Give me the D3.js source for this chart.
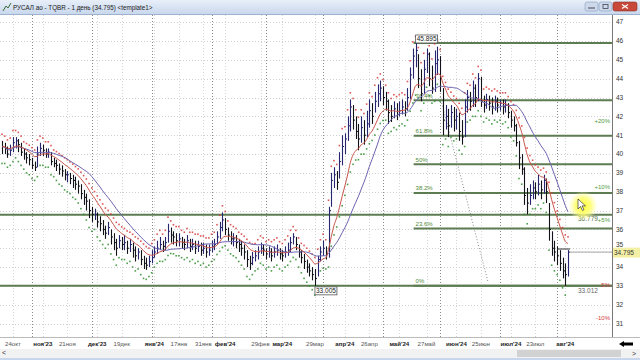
<!DOCTYPE html>
<html><head><meta charset="utf-8">
<script src="https://cdn.jsdelivr.net/npm/d3@7/dist/d3.min.js"></script>
<style>body{margin:0;background:#fff;overflow:hidden}svg{display:block;font-family:"Liberation Sans",Arial,sans-serif}</style>
</head><body><svg id="c" width="640" height="360"></svg>
<script>
// ---- data ----
const closes = [
40.4,40.3,40.0,40.2,40.6,40.7,40.5,40.1,40.0,39.8,
39.7,39.4,39.3,40.0,40.3,40.2,40.0,40.1,39.6,39.5,
39.4,39.2,39.1,38.9,38.9,38.7,38.6,38.4,38.3,37.9,
37.7,37.5,37.0,36.8,36.8,36.4,36.3,36.0,35.8,36.1,
35.6,35.3,35.0,35.4,35.2,35.3,35.0,35.2,34.9,34.6,
34.8,34.4,34.2,34.1,34.3,34.5,34.8,35.0,35.2,35.1,
35.3,35.9,35.7,35.6,35.4,35.5,35.3,35.2,35.4,35.1,
35.2,35.0,35.1,34.9,35.0,34.8,34.9,35.1,35.2,35.6,
36.1,36.5,36.0,35.7,35.5,35.5,35.3,35.2,35.0,34.8,
34.4,34.2,34.5,34.6,34.8,35.0,34.9,34.7,34.8,34.6,
34.8,34.9,34.7,34.6,34.8,34.9,35.3,35.6,35.2,34.8,
34.5,34.3,34.0,33.8,33.6,33.4,34.4,34.8,35.0,34.7,
37.0,38.6,38.9,38.5,39.6,40.4,40.8,41.5,42.5,41.8,
41.2,40.8,41.4,41.0,41.6,42.3,42.0,42.8,43.2,43.5,
43.0,42.8,42.2,42.0,42.4,42.1,42.3,42.5,42.4,43.0,
44.2,45.2,45.5,44.0,43.2,44.5,45.3,44.0,43.5,44.8,
45.0,44.0,41.8,42.0,41.5,42.2,41.8,42.0,41.2,40.9,
42.5,43.0,42.8,43.5,43.0,44.0,42.8,42.6,42.9,42.7,
42.5,42.8,42.6,42.7,42.5,42.6,42.2,41.8,41.5,40.6,
39.8,39.2,37.8,37.4,37.8,38.2,38.0,38.4,38.1,38.6,
38.0,36.0,35.0,34.8,34.6,34.2,33.8,33.6,34.795];
const highs = [
40.7,40.6,40.4,40.5,40.9,40.9,40.8,40.6,40.3,40.1,
40.0,39.8,39.6,40.4,40.6,40.5,40.3,40.3,40.1,39.8,
39.7,39.5,39.4,39.2,39.1,39.0,38.9,38.8,38.6,38.4,
38.1,37.9,37.6,37.2,37.1,36.9,36.7,36.5,36.2,36.4,
36.0,35.8,35.5,35.7,35.6,35.7,35.4,35.5,35.3,35.1,
35.0,34.9,34.6,34.5,34.6,34.9,35.1,35.4,35.6,35.4,
35.6,36.3,36.1,35.9,35.8,35.8,35.6,35.5,35.7,35.5,
35.5,35.4,35.4,35.3,35.3,35.2,35.2,35.4,35.5,35.9,
36.4,36.9,36.6,36.1,35.9,35.8,35.7,35.5,35.4,35.2,
34.9,34.6,34.8,34.9,35.1,35.3,35.2,35.0,35.1,35.0,
35.1,35.2,35.0,34.9,35.1,35.3,35.6,35.8,35.6,35.2,
34.9,34.7,34.4,34.2,34.0,33.9,34.6,35.1,35.4,35.1,
37.2,39.0,39.3,39.1,40.1,41.0,41.1,42.0,42.9,42.6,
42.0,41.6,42.0,41.8,42.3,42.9,42.7,43.3,43.7,43.9,
43.6,43.3,42.9,42.6,42.8,42.7,42.8,42.9,42.8,43.5,
44.6,45.6,45.895,45.3,44.5,45.0,45.6,45.4,44.7,45.5,
45.7,45.2,43.5,42.6,42.4,42.6,42.5,42.4,42.2,41.8,
42.9,43.4,43.3,43.9,43.7,44.3,44.1,43.1,43.2,43.1,
43.0,43.1,43.0,42.9,42.9,42.9,42.7,42.3,42.0,41.6,
40.7,40.0,39.3,38.2,38.4,38.6,38.5,38.9,38.6,38.9,
38.7,37.4,35.9,35.4,35.1,34.9,34.5,34.2,34.9];
const lows = [
40.0,40.0,39.8,39.9,40.1,40.3,40.1,39.9,39.7,39.5,
39.4,39.2,39.1,39.3,39.9,39.9,39.8,39.8,39.4,39.3,
39.1,38.9,38.8,38.6,38.5,38.4,38.2,38.1,37.9,37.6,
37.3,37.0,36.6,36.4,36.5,36.1,35.9,35.7,35.5,35.7,
35.2,34.9,34.6,35.0,34.9,34.9,34.7,34.8,34.5,34.3,
34.4,34.1,33.9,33.85,34.0,34.2,34.5,34.7,34.9,34.8,
34.9,35.3,35.3,35.2,35.1,35.1,35.0,34.9,35.0,34.8,
34.9,34.7,34.8,34.6,34.7,34.5,34.6,34.8,34.9,35.2,
35.5,35.9,35.7,35.4,35.2,35.1,35.0,34.8,34.6,34.4,
34.0,33.85,34.1,34.3,34.4,34.7,34.6,34.4,34.5,34.3,
34.5,34.6,34.4,34.3,34.5,34.6,34.8,35.2,34.9,34.5,
34.2,33.9,33.7,33.5,33.3,33.005,33.5,34.3,34.6,34.4,
34.5,37.2,38.2,38.1,38.7,39.4,40.0,40.7,41.2,41.3,
40.8,40.2,40.6,40.5,40.9,41.4,41.6,42.2,42.5,42.8,
42.6,42.3,41.6,41.7,41.9,41.8,42.0,42.1,42.0,42.3,
42.9,44.0,44.6,43.5,42.8,43.2,44.3,43.6,43.2,43.3,
44.2,43.3,41.0,41.3,40.9,41.4,41.2,41.3,40.7,40.5,
40.9,42.2,42.3,42.5,42.5,42.8,42.5,42.2,42.4,42.3,
42.1,42.3,42.2,42.3,42.1,42.2,41.9,41.4,41.2,40.4,
39.2,38.9,37.3,36.8,37.3,37.6,37.6,37.8,37.6,37.9,
37.4,35.4,34.6,34.3,34.1,33.8,33.4,33.012,33.5];

const tickIdx = [4,15,24,35,44,56,65,74,82,95,103,115,126,135,146,156,167,176,187,196,207];
const tickLabels = ["24окт","ноя'23","21ноя","дек'23","19дек","янв'24","17янв","31янв","фев'24","29фев","мар'24","29мар","апр'24","26апр","май'24","27май","июн'24","25июн","июл'24","23июл","авг'24"];
const tickBold = [0,1,0,1,0,1,0,0,1,0,1,0,1,0,1,0,1,0,1,0,1];
const gridIdx = [11,33,55,77,97,118,140,161,183,204];
const yTicks = [31,32,33,34,35,36,37,38,39,40,41,42,43,44,45,46,47];
const fibPct = [0,23.6,38.2,50,61.8,76.4];
const fibLabels = ["0%","23.6%","38.2%","50%","61.8%","76.4%"];
const fibLow = 33.012, fibHigh = 45.895, fibStartIdx = 152;
const levelValues = [36.779, 33.012];
const pctValues = [20,10,5,-5,-10];
const pctLabels = ["+20%","+10%","+5%","-5%","-10%"];
const lastPrice = 34.795;
const trendIdx = [161,178.7], trendVal = [43.03,33.16];
const title = "РУСАЛ ао - TQBR - 1 день (34.795) <template1>";

// ---- layout ----
const svg = d3.select("#c");
const PL=0, PR=612, PT=15, PB=337;
const x = d3.scaleLinear().domain([0,208]).range([2,568]);
const y = d3.scaleLinear().domain([30.29,47.38]).range([PB,PT]);

const defs = svg.append("defs");
defs.append("clipPath").attr("id","pc").append("rect").attr("x",PL).attr("y",PT).attr("width",PR-PL).attr("height",PB-PT);
const tg = defs.append("linearGradient").attr("id","tb").attr("x1",0).attr("y1",0).attr("x2",0).attr("y2",1);
tg.append("stop").attr("offset",0).attr("stop-color","#e8eff9");
tg.append("stop").attr("offset",1).attr("stop-color","#c7d6ec");
const rg = defs.append("radialGradient").attr("id","glow");
rg.append("stop").attr("offset",0).attr("stop-color","#ffff30").attr("stop-opacity",1);
rg.append("stop").attr("offset",0.55).attr("stop-color","#ffff70").attr("stop-opacity",0.85);
rg.append("stop").attr("offset",1).attr("stop-color","#ffffb0").attr("stop-opacity",0);

svg.append("rect").attr("width",640).attr("height",360).attr("fill","#fff");

const plot = svg.append("g").attr("clip-path","url(#pc)");
plot.selectAll(".hg").data(yTicks).join("line")
  .attr("x1",PL).attr("x2",PR).attr("y1",d=>Math.round(y(d))+0.5).attr("y2",d=>Math.round(y(d))+0.5)
  .attr("stroke","#cfcfcf").attr("stroke-dasharray","1,2");
plot.selectAll(".vf").data(tickIdx).join("line")
  .attr("x1",d=>Math.round(x(d))+0.5).attr("x2",d=>Math.round(x(d))+0.5).attr("y1",PT).attr("y2",PB)
  .attr("stroke","#d6d6d6").attr("stroke-dasharray","1,2");
plot.selectAll(".vg").data(gridIdx).join("line")
  .attr("x1",d=>Math.round(x(d))+0.5).attr("x2",d=>Math.round(x(d))+0.5).attr("y1",PT).attr("y2",PB)
  .attr("stroke","#8a8a8a").attr("stroke-dasharray","1,2");

const lvlColor="#5e7c52";
plot.selectAll(".lvl").data(levelValues).join("line")
  .attr("x1",PL).attr("x2",PR).attr("y1",d=>y(d)).attr("y2",d=>y(d))
  .attr("stroke",lvlColor).attr("stroke-width",2);
const fibVals = fibPct.map(p=>fibLow+(fibHigh-fibLow)*p/100).concat([fibHigh]);
plot.selectAll(".fib").data(fibVals).join("line")
  .attr("x1",x(fibStartIdx)-2).attr("x2",PR).attr("y1",d=>y(d)).attr("y2",d=>y(d))
  .attr("stroke",lvlColor).attr("stroke-width",2);
plot.selectAll(".fibt").data(fibPct).join("text")
  .attr("x",x(fibStartIdx)).attr("y",(d)=>y(fibLow+(fibHigh-fibLow)*d/100)-2.5)
  .attr("font-size",6).attr("fill","#4f8a3a").text((d,i)=>fibLabels[i]);

plot.append("line").attr("x1",x(trendIdx[0])).attr("y1",y(trendVal[0])).attr("x2",x(trendIdx[1])).attr("y2",y(trendVal[1]))
  .attr("stroke","#888").attr("stroke-dasharray","1,2");

const alpha = 2/11; const ema=[];
closes.forEach((c,i)=>ema.push(i? alpha*c+(1-alpha)*ema[i-1] : c));
const sma = closes.map((c,i)=>d3.mean(closes.slice(Math.max(0,i-19),i+1)));

// dots (behind bars)
plot.selectAll(".rd").data(closes).join("rect")
  .attr("x",(d,i)=>x(i)-0.8).attr("y",(d,i)=>y(Math.max(highs[i],ema[i])+0.35)-0.8)
  .attr("width",1.6).attr("height",1.6).attr("fill","#d93a3a").attr("opacity",0.85);
plot.selectAll(".gd").data(closes).join("rect")
  .attr("x",(d,i)=>x(i)-0.8).attr("y",(d,i)=>y(Math.min(lows[i],ema[i])-0.5)-0.8)
  .attr("width",1.6).attr("height",1.6).attr("fill","#2f8f2f").attr("opacity",0.85);

const bars = plot.append("g");
const barColor = (d,i)=> i>0 && d>=closes[i-1] ? "#26266e" : "#111118";
bars.selectAll(".b").data(closes).join("line")
  .attr("x1",(d,i)=>Math.round(x(i))+0.5).attr("x2",(d,i)=>Math.round(x(i))+0.5)
  .attr("y1",(d,i)=>y(highs[i])).attr("y2",(d,i)=>y(lows[i]))
  .attr("stroke",barColor).attr("stroke-width",1.1);
bars.selectAll(".t").data(closes).join("line")
  .attr("x1",(d,i)=>Math.round(x(i))+0.5).attr("x2",(d,i)=>Math.round(x(i))+2)
  .attr("y1",d=>y(d)).attr("y2",d=>y(d))
  .attr("stroke",barColor).attr("stroke-width",1);

const line = arr => d3.line().x((d,i)=>x(i)).y(d=>y(d)).curve(d3.curveMonotoneX)(arr);
plot.append("path").attr("d",line(sma)).attr("fill","none").attr("stroke","#6b63b0").attr("stroke-width",1);
plot.append("path").attr("d",line(ema)).attr("fill","none").attr("stroke","#c9544a").attr("stroke-width",1);

plot.append("line").attr("x1",x(204)).attr("x2",x(208)+2).attr("y1",y(34.96)).attr("y2",y(34.96)).attr("stroke","#333").attr("stroke-width",1);
plot.append("line").attr("x1",x(208)+2).attr("x2",PR).attr("y1",y(lastPrice)).attr("y2",y(lastPrice)).attr("stroke","#a0a0a0").attr("stroke-width",1);

function box(idx,val,txt,dy){
  const bx=x(idx), by=y(val)+dy;
  plot.append("rect").attr("x",bx).attr("y",by).attr("width",22).attr("height",8).attr("fill","#fff").attr("stroke","#555").attr("stroke-width",0.8);
  plot.append("text").attr("x",bx+11).attr("y",by+6.5).attr("text-anchor","middle").attr("font-size",6.5).attr("fill","#222").text(txt);
}
box(fibStartIdx,fibHigh,"45.895",-8);
box(115,33.005,"33.005",1);

plot.append("text").attr("x",578).attr("y",y(36.779)+6.5).attr("font-size",6.5).attr("fill","#55704a").text("36.779");
plot.append("text").attr("x",578).attr("y",y(33.012)+7).attr("font-size",6.5).attr("fill","#666").text("33.012");
plot.selectAll(".pct").data(pctValues).join("text")
  .attr("x",610).attr("y",d=>y(lastPrice*(1+d/100))+2.2).attr("text-anchor","end").attr("font-size",6)
  .attr("fill",d=>d>0?"#4e9a3a":"#d03a3a").text((d,i)=>pctLabels[i]);

plot.append("circle").attr("cx",583).attr("cy",206).attr("r",15).attr("fill","url(#glow)");
plot.append("path").attr("d","M578,199 l0,10 l2.5,-2.5 l2,4 l1.5,-0.8 l-2,-3.8 l3.5,0 z").attr("fill","#fff").attr("stroke","#333").attr("stroke-width",0.7);

// axes
svg.append("line").attr("x1",PR+0.5).attr("x2",PR+0.5).attr("y1",PT).attr("y2",PB).attr("stroke","#777");
svg.append("line").attr("x1",0).attr("x2",640).attr("y1",PB+0.5).attr("y2",PB+0.5).attr("stroke","#bbb");
svg.selectAll(".yt").data(yTicks).join("text")
  .attr("x",616).attr("y",d=> d===35 ? y(d)-1.5 : y(d)+2.3).attr("font-size",6.5).attr("fill","#333").text(d=>d);
svg.append("rect").attr("x",PR+1).attr("y",y(lastPrice)-4.5).attr("width",27).attr("height",10).attr("fill","#f3f0a6");
svg.append("text").attr("x",614).attr("y",y(lastPrice)+2.5).attr("font-size",6.5).attr("fill","#333").text(lastPrice.toFixed(3));

svg.selectAll(".xt").data(tickIdx).join("text")
  .attr("x",d=>x(d)).attr("y",346).attr("text-anchor","middle").attr("font-size",6.1)
  .attr("font-weight",(d,i)=>tickBold[i]?"bold":"normal").attr("fill",(d,i)=>tickBold[i]?"#222":"#555")
  .text((d,i)=>tickLabels[i]);
svg.append("path").attr("d","M619,344 l5,-3 l0,1.5 l9,0 l0,3 l-9,0 l0,1.5 z").attr("fill","#000");

svg.append("rect").attr("x",0).attr("y",349).attr("width",640).attr("height",9).attr("fill","#f2f2f2");
svg.append("rect").attr("x",517).attr("y",350).attr("width",104).attr("height",7).attr("fill","#d2d2d2");
svg.append("text").attr("x",2).attr("y",355).attr("font-size",7).attr("fill","#333").text("<");
svg.append("text").attr("x",632).attr("y",356).attr("font-size",7).attr("fill","#333").text(">");
svg.append("rect").attr("x",0).attr("y",358).attr("width",640).attr("height",2).attr("fill","#c7d6ec");

svg.append("rect").attr("x",0).attr("y",0).attr("width",640).attr("height",15).attr("fill","url(#tb)");
svg.append("line").attr("x1",0).attr("x2",640).attr("y1",14.5).attr("y2",14.5).attr("stroke","#9fb3d0");
svg.append("path").attr("d","M3,11 L6,6 L8,8 L11,3").attr("fill","none").attr("stroke","#3a6a3a").attr("stroke-width",1);
svg.append("text").attr("x",13).attr("y",10).attr("font-size",6.3).attr("fill","#1a1a1a").text(title);
svg.append("rect").attr("x",585).attr("y",2).attr("width",13).attr("height",9).attr("rx",2).attr("fill","#cdd9ea").attr("stroke","#8aa0c0").attr("stroke-width",0.6);
svg.append("line").attr("x1",588).attr("x2",595).attr("y1",8).attr("y2",8).attr("stroke","#445").attr("stroke-width",1);
svg.append("rect").attr("x",599).attr("y",2).attr("width",13).attr("height",9).attr("rx",2).attr("fill","#cdd9ea").attr("stroke","#8aa0c0").attr("stroke-width",0.6);
svg.append("rect").attr("x",603).attr("y",4.5).attr("width",5).attr("height",4).attr("fill","none").attr("stroke","#445").attr("stroke-width",0.8);
svg.append("rect").attr("x",613).attr("y",2).attr("width",24).attr("height",9).attr("rx",2).attr("fill","#c8483a").attr("stroke","#8a3028").attr("stroke-width",0.6);
svg.append("path").attr("d","M622,4.5 l6,4 M628,4.5 l-6,4").attr("stroke","#fff").attr("stroke-width",1.3);
</script></body></html>
